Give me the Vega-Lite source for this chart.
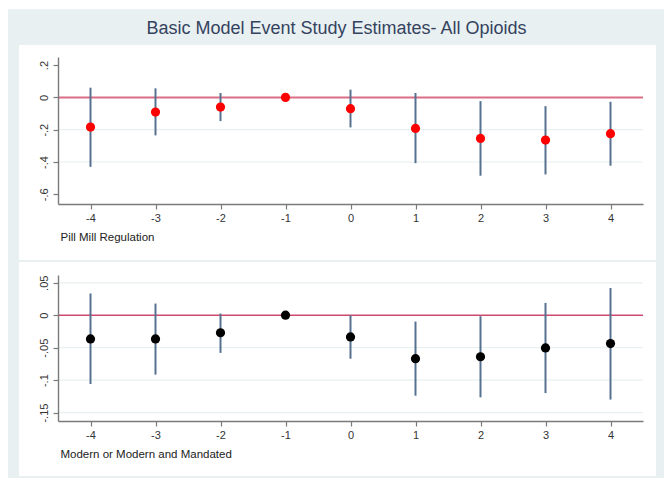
{
  "$schema": "https://vega.github.io/schema/vega-lite/v6.json",
  "background": "white",
  "padding": {"left": 7, "top": 9, "right": 0, "bottom": 5},
  "title": {"text": "Basic Model Event Study Estimates- All Opioids", "font": "Liberation Sans", "fontSize": 18, "fontWeight": "normal", "color": "#34435e", "anchor": "middle", "offset": -29},
  "datasets": {
    "pill": [
      {"t": -4, "est": -0.184, "lo": -0.43, "hi": 0.06},
      {"t": -3, "est": -0.091, "lo": -0.235, "hi": 0.056},
      {"t": -2, "est": -0.06, "lo": -0.147, "hi": 0.027},
      {"t": -1, "est": 0, "lo": 0, "hi": 0},
      {"t": 0, "est": -0.07, "lo": -0.186, "hi": 0.048},
      {"t": 1, "est": -0.192, "lo": -0.407, "hi": 0.027},
      {"t": 2, "est": -0.254, "lo": -0.485, "hi": -0.023},
      {"t": 3, "est": -0.264, "lo": -0.477, "hi": -0.054},
      {"t": 4, "est": -0.225, "lo": -0.423, "hi": -0.027}
    ],
    "modern": [
      {"t": -4, "est": -0.0365, "lo": -0.106, "hi": 0.0335},
      {"t": -3, "est": -0.0365, "lo": -0.0915, "hi": 0.018},
      {"t": -2, "est": -0.027, "lo": -0.058, "hi": 0.0026},
      {"t": -1, "est": 0, "lo": 0, "hi": 0},
      {"t": 0, "est": -0.0335, "lo": -0.067, "hi": 0.0},
      {"t": 1, "est": -0.067, "lo": -0.124, "hi": -0.0098},
      {"t": 2, "est": -0.064, "lo": -0.1265, "hi": -0.0015},
      {"t": 3, "est": -0.0504, "lo": -0.12, "hi": 0.019},
      {"t": 4, "est": -0.0437, "lo": -0.13, "hi": 0.042}
    ]
  },
  "spacing": 71,
  "bounds": "flush",
  "vconcat": [
    {
      "width": 585,
      "height": 147,
      "layer": [
        {
          "data": {"values": [{}]},
          "mark": {"type": "rect", "color": "#e9f0f2", "clip": false},
          "encoding": {
            "x": {"datum": -5.27, "type": "quantitative"},
            "x2": {"datum": 4.838},
            "y": {"datum": 0.547, "type": "quantitative"},
            "y2": {"datum": -2.356}
          }
        },
        {
          "data": {"values": [{}]},
          "mark": {"type": "rect", "color": "white", "clip": false},
          "encoding": {
            "x": {"datum": -5.1, "type": "quantitative"},
            "x2": {"datum": 4.7},
            "y": {"datum": 0.324, "type": "quantitative"},
            "y2": {"datum": -1.007}
          }
        },
        {"data": {"values": [{}]}, "mark": {"type": "rule", "color": "#e8f0f1", "strokeWidth": 1.2}, "encoding": {"y": {"datum": -0.2, "type": "quantitative"}}},
        {"data": {"values": [{}]}, "mark": {"type": "rule", "color": "#e8f0f1", "strokeWidth": 1.2}, "encoding": {"y": {"datum": -0.4, "type": "quantitative"}}},
        {"data": {"values": [{}]}, "mark": {"type": "rule", "color": "#dc6d86", "strokeWidth": 2}, "encoding": {"y": {"datum": 0, "type": "quantitative"}}},
        {
          "data": {"name": "pill"},
          "mark": {"type": "rule", "color": "#56718f", "strokeWidth": 2},
          "encoding": {
            "x": {"field": "t", "type": "quantitative"},
            "y": {"field": "lo", "type": "quantitative"},
            "y2": {"field": "hi"}
          }
        },
        {
          "data": {"name": "pill"},
          "mark": {"type": "point", "filled": true, "color": "#ff0000", "opacity": 1, "size": 85},
          "encoding": {
            "x": {"field": "t", "type": "quantitative", "scale": {"domain": [-4.5, 4.5], "nice": false, "zero": false},
              "axis": {"zindex": 1, "values": [-4, -3, -2, -1, 0, 1, 2, 3, 4], "tickCount": 20, "labelExpr": "datum.value + ''", "labelOverlap": false, "title": "Pill Mill Regulation", "titleAnchor": "start", "titleAlign": "left", "titleX": 2, "titlePadding": 8}},
            "y": {"field": "est", "type": "quantitative", "scale": {"domain": [-0.66, 0.25], "nice": false, "zero": false},
              "axis": {"zindex": 1, "values": [-0.6, -0.4, -0.2, 0, 0.2], "tickCount": 20, "title": null, "labelOverlap": false, "labelAngle": 270, "labelAlign": "center", "labelBaseline": "bottom", "labelPadding": 4, "labelExpr": "replace(datum.value + '', '0.', '.')"}}
          }
        }
      ]
    },
    {
      "width": 585,
      "height": 146,
      "layer": [
        {
          "data": {"values": [{}]},
          "mark": {"type": "rect", "color": "white", "clip": false},
          "encoding": {
            "x": {"datum": -5.1, "type": "quantitative"},
            "x2": {"datum": 4.7},
            "y": {"datum": 0.082, "type": "quantitative"},
            "y2": {"datum": -0.2478}
          }
        },
        {"data": {"values": [{}]}, "mark": {"type": "rule", "color": "#e8f0f1", "strokeWidth": 1.2}, "encoding": {"y": {"datum": 0.05, "type": "quantitative"}}},
        {"data": {"values": [{}]}, "mark": {"type": "rule", "color": "#e8f0f1", "strokeWidth": 1.2}, "encoding": {"y": {"datum": -0.05, "type": "quantitative"}}},
        {"data": {"values": [{}]}, "mark": {"type": "rule", "color": "#e8f0f1", "strokeWidth": 1.2}, "encoding": {"y": {"datum": -0.1, "type": "quantitative"}}},
        {"data": {"values": [{}]}, "mark": {"type": "rule", "color": "#e8f0f1", "strokeWidth": 1.2}, "encoding": {"y": {"datum": -0.15, "type": "quantitative"}}},
        {"data": {"values": [{}]}, "mark": {"type": "rule", "color": "#d04a6e", "strokeWidth": 1.6}, "encoding": {"y": {"datum": 0, "type": "quantitative"}}},
        {
          "data": {"name": "modern"},
          "mark": {"type": "rule", "color": "#56718f", "strokeWidth": 2},
          "encoding": {
            "x": {"field": "t", "type": "quantitative"},
            "y": {"field": "lo", "type": "quantitative"},
            "y2": {"field": "hi"}
          }
        },
        {
          "data": {"name": "modern"},
          "mark": {"type": "point", "filled": true, "color": "#000000", "opacity": 1, "size": 85},
          "encoding": {
            "x": {"field": "t", "type": "quantitative", "scale": {"domain": [-4.5, 4.5], "nice": false, "zero": false},
              "axis": {"zindex": 1, "values": [-4, -3, -2, -1, 0, 1, 2, 3, 4], "tickCount": 20, "labelExpr": "datum.value + ''", "labelOverlap": false, "title": "Modern or Modern and Mandated", "titleAnchor": "start", "titleAlign": "left", "titleX": 2, "titlePadding": 8}},
            "y": {"field": "est", "type": "quantitative", "scale": {"domain": [-0.163, 0.062], "nice": false, "zero": false},
              "axis": {"zindex": 1, "values": [-0.15, -0.1, -0.05, 0, 0.05], "tickCount": 20, "title": null, "labelOverlap": false, "labelAngle": 270, "labelAlign": "center", "labelBaseline": "bottom", "labelPadding": 4, "labelExpr": "replace(datum.value + '', '0.', '.')"}}
          }
        }
      ]
    }
  ],
  "config": {
    "view": {"stroke": null},
    "font": "Liberation Sans",
    "axis": {
      "grid": false,
      "labelFlush": false,
      "domainColor": "#7a7a7a",
      "domainWidth": 1.4,
      "tickColor": "#7a7a7a",
      "tickWidth": 1.2,
      "tickSize": 5,
      "labelColor": "#333333",
      "labelFont": "Liberation Sans",
      "labelFontSize": 11,
      "titleFont": "Liberation Sans",
      "titleFontSize": 11.5,
      "titleFontWeight": "normal",
      "titleColor": "#222222"
    },
    "axisX": {"labelPadding": 3}
  }
}
